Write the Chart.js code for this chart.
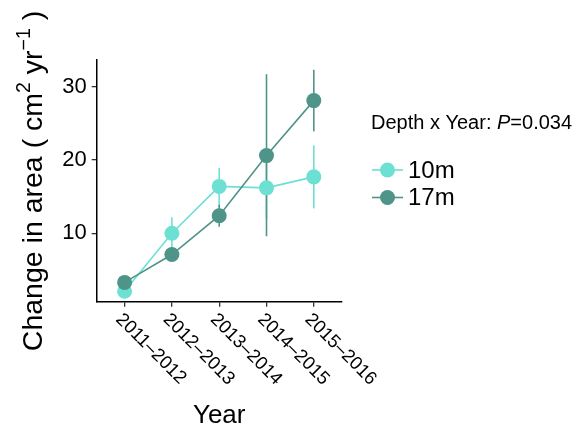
<!DOCTYPE html>
<html>
<head>
<meta charset="utf-8">
<script src="https://cdn.jsdelivr.net/npm/chart.js@4"></script>
<style>
  html, body { margin:0; padding:0; background:#fff; }
  #wrap { position:relative; width:581px; height:430px; }
</style>
</head>
<body>
<div id="wrap"><canvas id="areaChart" width="581" height="430"></canvas></div>
<script>
'use strict';

// ── data: mean change in area per year interval, with error range
const years  = ['2011–2012', '2012–2013', '2013–2014', '2014–2015', '2015–2016'];
const depths = ['10m', '17m'];
const mean10 = [2.1, 10.0, 16.4, 16.2, 17.7];
const lo10   = [1.6, 7.9, 13.6, 12.0, 13.4];
const hi10   = [2.6, 12.2, 18.9, 20.4, 22.0];
const mean17 = [3.3, 7.1, 12.4, 20.6, 28.1];
const lo17   = [2.7, 6.2, 10.9, 9.6, 23.9];
const hi17   = [3.9, 8.0, 13.9, 31.7, 32.3];
const yTicks = [10, 20, 30];
const statText = ['Depth x Year: ', 'P', '=0.034'];

const COL = ['#6de0d4', '#4e9488'];
const FONT = '"Liberation Sans", Arial, Helvetica, sans-serif';

const toPts = arr => arr.map((v, i) => ({ x: i, y: v }));

// error bars go under lines and points
const errorBars = {
  id: 'errorBars',
  beforeDatasetsDraw(chart) {
    const { ctx, scales: { x, y } } = chart;
    const ranges = [[lo10, hi10], [lo17, hi17]];
    ctx.save();
    ctx.lineWidth = 1.6;
    ranges.forEach(([lo, hi], d) => {
      ctx.strokeStyle = COL[d];
      lo.forEach((l, i) => {
        const px = x.getPixelForValue(i);
        ctx.beginPath();
        ctx.moveTo(px, y.getPixelForValue(l));
        ctx.lineTo(px, y.getPixelForValue(hi[i]));
        ctx.stroke();
      });
    });
    ctx.restore();
  }
};

// titles, slanted x labels and the legend block
const decorations = {
  id: 'decorations',
  afterDraw(chart) {
    const { ctx, scales: { x }, chartArea: ca } = chart;
    ctx.save();
    ctx.fillStyle = '#000';

    // x tick labels at -45deg, starting at the tick
    ctx.font = '18.5px ' + FONT;
    ctx.textAlign = 'left';
    ctx.textBaseline = 'alphabetic';
    years.forEach((lab, i) => {
      const px = x.getPixelForValue(i);
      ctx.save();
      ctx.translate(px - 9.5, ca.bottom + 18.5);
      ctx.rotate(Math.PI / 4);
      ctx.fillText(lab, 0, 0);
      ctx.restore();
    });

    // x title
    ctx.font = '26px ' + FONT;
    ctx.textAlign = 'center';
    ctx.fillText('Year', (ca.left + ca.right) / 2, 423);

    // y title with superscripts
    const big = '28.5px ' + FONT, small = '19.5px ' + FONT;
    const parts = [
      ['Change in area ( cm', big, 0], ['2', small, -12],
      [' yr', big, 0], ['\u22121', small, -12], [' )', big, 0]
    ];
    let total = 0;
    parts.forEach(p => { ctx.font = p[1]; total += ctx.measureText(p[0]).width; });
    ctx.save();
    ctx.translate(42, 181);
    ctx.rotate(-Math.PI / 2);
    ctx.textAlign = 'left';
    let cx = -total / 2;
    parts.forEach(p => {
      ctx.font = p[1];
      ctx.fillText(p[0], cx, p[2]);
      cx += ctx.measureText(p[0]).width;
    });
    ctx.restore();

    // legend title: interaction p-value
    ctx.textAlign = 'left';
    let lx = 371;
    [[statText[0], '20px '], [statText[1], 'italic 20px '], [statText[2], '20px ']].forEach(([t, f]) => {
      ctx.font = f + FONT;
      ctx.fillText(t, lx, 129);
      lx += ctx.measureText(t).width;
    });

    // legend keys
    const keyY = [170, 197.5];
    depths.forEach((lab, d) => {
      const cy = keyY[d];
      ctx.strokeStyle = COL[d];
      ctx.lineWidth = 1.6;
      ctx.beginPath();
      ctx.moveTo(372, cy);
      ctx.lineTo(403, cy);
      ctx.stroke();
      ctx.fillStyle = COL[d];
      ctx.beginPath();
      ctx.arc(387.5, cy, 7.5, 0, Math.PI * 2);
      ctx.fill();
      ctx.fillStyle = '#000';
      ctx.font = '24px ' + FONT;
      ctx.textBaseline = 'middle';
      ctx.fillText(lab, 408, cy + 1);
      ctx.textBaseline = 'alphabetic';
    });
    ctx.restore();
  }
};

new Chart(document.getElementById('areaChart'), {
  type: 'line',
  data: {
    datasets: [
      { label: depths[0], data: toPts(mean10), borderColor: COL[0], backgroundColor: COL[0],
        borderWidth: 1.6, pointRadius: 7.5, pointBorderWidth: 0, tension: 0, order: 2 },
      { label: depths[1], data: toPts(mean17), borderColor: COL[1], backgroundColor: COL[1],
        borderWidth: 1.6, pointRadius: 7.5, pointBorderWidth: 0, tension: 0, order: 1 }
    ]
  },
  options: {
    responsive: false,
    animation: false,
    layout: { padding: { left: 0, top: 60, right: 239.3, bottom: 128.3 } },
    plugins: { legend: { display: false }, tooltip: { enabled: false } },
    scales: {
      x: {
        type: 'linear',
        min: -0.59, max: 4.59,
        afterBuildTicks: s => { s.ticks = years.map((_, i) => ({ value: i })); },
        afterFit: s => { s.height = 0; },
        ticks: { display: false },
        grid: { drawOnChartArea: false, drawTicks: true, tickLength: 5, color: '#333', lineWidth: 1.3 },
        border: { display: true, color: '#000', width: 1.5 }
      },
      y: {
        min: 0.67, max: 33.64,
        afterBuildTicks: s => { s.ticks = yTicks.map(v => ({ value: v })); },
        afterFit: s => { s.width = 96.7; },
        ticks: { color: '#000', font: { family: FONT, size: 22 }, padding: 5 },
        grid: { drawOnChartArea: false, drawTicks: true, tickLength: 5, color: '#333', lineWidth: 1.3 },
        border: { display: true, color: '#000', width: 1.5 }
      }
    }
  },
  plugins: [errorBars, decorations]
});
</script>
</body>
</html>
